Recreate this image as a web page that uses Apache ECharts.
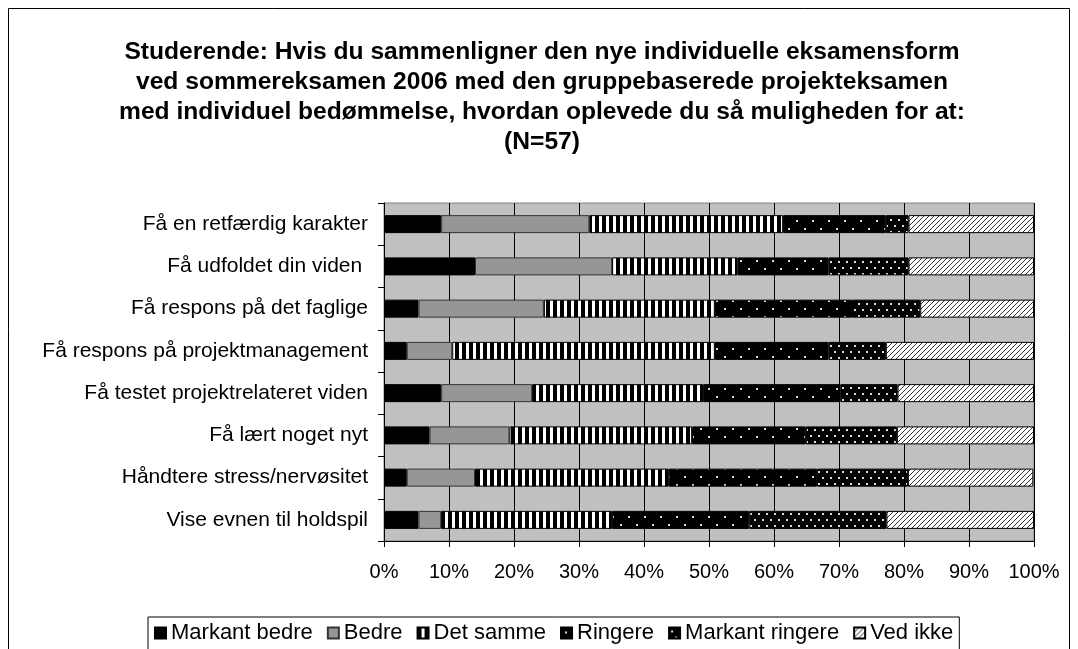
<!DOCTYPE html>
<html>
<head>
<meta charset="utf-8">
<script src="https://cdn.jsdelivr.net/npm/echarts@6/dist/echarts.min.js"></script>
<style>
  html, body { margin: 0; padding: 0; background: #fff; }
  #chart { width: 1078px; height: 649px; }
</style>
</head>
<body>
<div id="chart"></div>
<script>
const categories = [
  'Få en retfærdig karakter',
  'Få udfoldet din viden ',
  'Få respons på det faglige',
  'Få respons på projektmanagement',
  'Få testet projektrelateret viden',
  'Få lært noget nyt',
  'Håndtere stress/nervøsitet',
  'Vise evnen til holdspil'
]

// percent of respondents (N=57), top row first
const markantBedre   = [8.8, 14.0, 5.3, 3.5, 8.8, 7.0, 3.5, 5.3]
const bedre          = [22.8, 21.1, 19.3, 7.0, 14.0, 12.3, 10.5, 3.5]
const detSamme       = [29.8, 19.3, 26.3, 40.4, 26.3, 28.1, 29.8, 26.3]
const ringere        = [15.8, 14.0, 21.1, 17.5, 21.1, 17.5, 22.8, 21.1]
const markantRingere = [3.5, 12.3, 10.5, 8.8, 8.8, 14.0, 14.0, 21.1]
const vedIkke        = [19.3, 19.3, 17.5, 22.8, 21.0, 21.1, 19.3, 22.7]

const seriesNames = ['Markant bedre', 'Bedre', 'Det samme', 'Ringere', 'Markant ringere', 'Ved ikke']
const xTicks = [0, 10, 20, 30, 40, 50, 60, 70, 80, 90, 100]

function pattern(w, h, draw) {
  const c = document.createElement('canvas')
  c.width = w
  c.height = h
  draw(c.getContext('2d'))
  return { image: c, repeat: 'repeat' }
}

// vertical black/white stripes
const stripes = pattern(7, 4, ctx => {
  ctx.fillStyle = '#000'; ctx.fillRect(0, 0, 7, 4)
  ctx.fillStyle = '#fff'; ctx.fillRect(4, 0, 3, 4)
})
// sparse white dots on black
const sparseDots = pattern(16, 16, ctx => {
  ctx.fillStyle = '#000'; ctx.fillRect(0, 0, 16, 16)
  ctx.fillStyle = '#ddd'
  ctx.fillRect(4, 4, 2, 2)
  ctx.fillRect(12, 12, 2, 2)
})
// denser white dots on black
const denseDots = pattern(8, 12, ctx => {
  ctx.fillStyle = '#000'; ctx.fillRect(0, 0, 8, 12)
  ctx.fillStyle = '#ddd'
  ctx.fillRect(2, 3, 2, 2)
  ctx.fillRect(6, 9, 2, 2)
})
// diagonal hatch
const hatch = pattern(5, 5, ctx => {
  ctx.fillStyle = '#fff'; ctx.fillRect(0, 0, 5, 5)
  ctx.fillStyle = '#333'
  for (let x = 0; x < 5; x++) {
    for (let y = 0; y < 5; y++) {
      if ((x + y) % 5 === 4) ctx.fillRect(x, y, 1, 1)
    }
  }
})

const fills = ['#000', '#969696', stripes, sparseDots, denseDots, hatch]
const values = [markantBedre, bedre, detSamme, ringere, markantRingere, vedIkke]

const chart = echarts.init(document.getElementById('chart'))

chart.setOption({
  animation: false,
  textStyle: { fontFamily: 'Liberation Sans, Arial, sans-serif', color: '#000' },
  title: {
    text: 'Studerende: Hvis du sammenligner den nye individuelle eksamensform\nved sommereksamen 2006 med den gruppebaserede projekteksamen\nmed individuel bedømmelse, hvordan oplevede du så muligheden for at:\n(N=57)',
    left: 537,
    top: 32,
    textAlign: 'center',
    textStyle: {
      fontSize: 24.6,
      fontWeight: 'bold',
      lineHeight: 30,
      color: '#000',
      fontFamily: 'Liberation Sans, Arial, sans-serif'
    }
  },
  graphic: [
    {
      type: 'rect',
      silent: true,
      shape: { x: 8.5, y: 8.5, width: 1061, height: 700 },
      style: { fill: 'none', stroke: '#000', lineWidth: 1 }
    }
  ],
  legend: {
    data: seriesNames,
    left: 148,
    top: 617,
    padding: [5, 6, 30, 6],
    borderColor: '#000',
    borderWidth: 1,
    icon: 'rect',
    itemWidth: 11,
    itemHeight: 11,
    itemGap: 14,
    textStyle: { fontSize: 22, color: '#000' }
  },
  grid: {
    left: 384,
    right: 44,
    top: 203,
    bottom: 108,
    show: true,
    backgroundColor: '#c0c0c0',
    borderColor: '#808080',
    borderWidth: 1
  },
  xAxis: {
    type: 'value',
    min: xTicks[0],
    max: xTicks[xTicks.length - 1],
    interval: 10,
    axisLine: { show: true, lineStyle: { color: '#000' } },
    axisTick: { show: true, length: 6, lineStyle: { color: '#000' } },
    axisLabel: { formatter: '{value}%', fontSize: 20, color: '#000', margin: 21 },
    splitLine: { show: true, lineStyle: { color: '#000', width: 1 } }
  },
  yAxis: {
    type: 'category',
    data: categories,
    inverse: true,
    axisLine: { show: true, lineStyle: { color: '#000' } },
    axisTick: { show: true, length: 6, lineStyle: { color: '#000' } },
    axisLabel: { fontSize: 21, color: '#000', margin: 16 },
    splitLine: { show: false }
  },
  series: seriesNames.map((name, i) => ({
    name,
    type: 'bar',
    stack: 'total',
    barWidth: 18,
    data: values[i],
    itemStyle: {
      color: fills[i],
      borderColor: i === 1 ? '#333' : '#000',
      borderWidth: 1
    }
  }))
})
</script>
</body>
</html>
